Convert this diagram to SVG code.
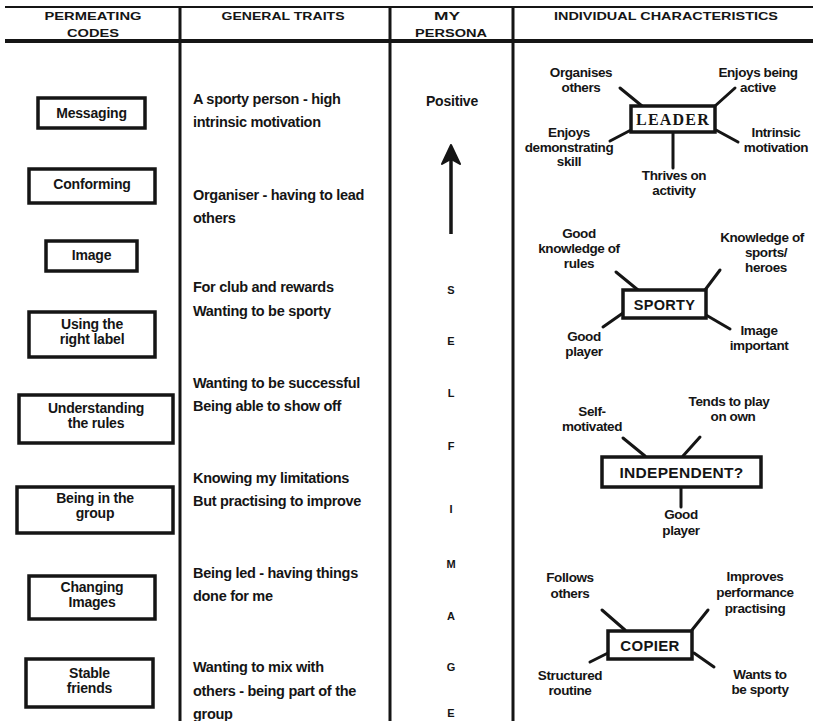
<svg xmlns="http://www.w3.org/2000/svg" width="813" height="721" viewBox="0 0 813 721">
<style>
text{font-family:"Liberation Sans",Arial,sans-serif;font-weight:bold;fill:#151515}
.h{font-size:11px;text-anchor:middle}
.t{font-size:14.5px;letter-spacing:-0.3px}
.b{font-size:14px;text-anchor:middle;letter-spacing:-0.2px}
.r{font-size:13.5px;text-anchor:middle;letter-spacing:-0.4px}
.m{font-size:11px;text-anchor:middle}
.box{fill:#fff;stroke:#151515;stroke-width:3.5}
.ln{stroke:#151515;stroke-width:3;stroke-linecap:round;fill:none}
.rule{stroke:#151515;fill:none}
</style>
<rect width="813" height="721" fill="#fff"/>
<g id="grid">
<line class="rule" x1="5" y1="7" x2="813" y2="7" stroke-width="2"/>
<line class="rule" x1="5" y1="41" x2="813" y2="41" stroke-width="4"/>
<line class="rule" x1="180" y1="7" x2="180" y2="721" stroke-width="3"/>
<line class="rule" x1="390" y1="7" x2="390" y2="721" stroke-width="3"/>
<line class="rule" x1="513" y1="7" x2="513" y2="721" stroke-width="3"/>
</g>
<g id="headers">
<text class="h" x="93" y="20" textLength="97" lengthAdjust="spacingAndGlyphs">PERMEATING</text>
<text class="h" x="93" y="37" textLength="52" lengthAdjust="spacingAndGlyphs">CODES</text>
<text class="h" x="283" y="20" textLength="123" lengthAdjust="spacingAndGlyphs">GENERAL TRAITS</text>
<text class="h" x="447" y="20" textLength="26" lengthAdjust="spacingAndGlyphs">MY</text>
<text class="h" x="451" y="37" textLength="72" lengthAdjust="spacingAndGlyphs">PERSONA</text>
<text class="h" x="666" y="20" textLength="224" lengthAdjust="spacingAndGlyphs">INDIVIDUAL CHARACTERISTICS</text>
</g>
<g id="code-messaging"><rect class="box" x="38" y="98" width="107" height="30"/><text class="b" x="91.5" y="118">Messaging</text></g>
<g id="code-conforming"><rect class="box" x="29" y="169" width="126" height="34"/><text class="b" x="92" y="189">Conforming</text></g>
<g id="code-image"><rect class="box" x="46" y="241" width="91" height="30"/><text class="b" x="91.5" y="260">Image</text></g>
<g id="code-label"><rect class="box" x="29" y="312" width="126" height="45"/><text class="b" x="92" y="329">Using the</text><text class="b" x="92" y="344">right label</text></g>
<g id="code-rules"><rect class="box" x="19" y="395" width="154" height="48"/><text class="b" x="96" y="413">Understanding</text><text class="b" x="96" y="428">the rules</text></g>
<g id="code-group"><rect class="box" x="17" y="487" width="156" height="46"/><text class="b" x="95" y="503">Being in the</text><text class="b" x="95" y="518">group</text></g>
<g id="code-changing"><rect class="box" x="29" y="576" width="126" height="43"/><text class="b" x="92" y="592">Changing</text><text class="b" x="92" y="607">Images</text></g>
<g id="code-stable"><rect class="box" x="26" y="659" width="127" height="48"/><text class="b" x="89.5" y="678">Stable</text><text class="b" x="89.5" y="693">friends</text></g>
<g id="traits">
<text class="t" x="193" y="104">A sporty person - high</text>
<text class="t" x="193" y="127">intrinsic motivation</text>
<text class="t" x="193" y="200">Organiser - having to lead</text>
<text class="t" x="193" y="223">others</text>
<text class="t" x="193" y="292">For club and rewards</text>
<text class="t" x="193" y="316">Wanting to be sporty</text>
<text class="t" x="193" y="388">Wanting to be successful</text>
<text class="t" x="193" y="411">Being able to show off</text>
<text class="t" x="193" y="483">Knowing my limitations</text>
<text class="t" x="193" y="506">But practising to improve</text>
<text class="t" x="193" y="578">Being led - having things</text>
<text class="t" x="193" y="601">done for me</text>
<text class="t" x="193" y="672">Wanting to mix with</text>
<text class="t" x="193" y="696">others - being part of the</text>
<text class="t" x="193" y="719">group</text>
</g>
<g id="persona">
<text class="b" x="452" y="106">Positive</text>
<line class="rule" x1="451" y1="158" x2="451" y2="234" stroke-width="3.5"/>
<path d="M451 145 L442 164 L451 159 L460 164 Z" fill="#151515" stroke="#151515" stroke-width="2" stroke-linejoin="round"/>
<text class="m" x="451" y="294">S</text>
<text class="m" x="451" y="345">E</text>
<text class="m" x="451" y="397">L</text>
<text class="m" x="451" y="450">F</text>
<text class="m" x="451" y="513">I</text>
<text class="m" x="451" y="568">M</text>
<text class="m" x="451" y="620">A</text>
<text class="m" x="451" y="671">G</text>
<text class="m" x="451" y="717">E</text>
</g>
<g id="connectors">
<line class="ln" x1="620" y1="88" x2="642" y2="106"/>
<line class="ln" x1="735" y1="88" x2="715" y2="106"/>
<line class="ln" x1="610" y1="141" x2="631" y2="130"/>
<line class="ln" x1="738" y1="142" x2="716" y2="130"/>
<line class="ln" x1="673" y1="132" x2="673" y2="168"/>
<line class="ln" x1="616" y1="272" x2="638" y2="290"/>
<line class="ln" x1="720" y1="270" x2="705" y2="290"/>
<line class="ln" x1="603" y1="327" x2="623" y2="313"/>
<line class="ln" x1="730" y1="329" x2="706" y2="315"/>
<line class="ln" x1="623" y1="438" x2="645" y2="456"/>
<line class="ln" x1="700" y1="437" x2="683" y2="456"/>
<line class="ln" x1="681" y1="487" x2="681" y2="507"/>
<line class="ln" x1="602" y1="610" x2="625" y2="630"/>
<line class="ln" x1="708" y1="610" x2="692" y2="630"/>
<line class="ln" x1="590" y1="662" x2="608" y2="653"/>
<line class="ln" x1="714" y1="667" x2="694" y2="653"/>
</g>
<g id="leader">
<rect class="box" x="631" y="106" width="84" height="26"/>
<text x="673" y="125" style="font-family:'Liberation Serif','Times New Roman',serif;font-size:16px;text-anchor:middle;letter-spacing:1.2px">LEADER</text>
</g>
<g id="leader-traits">
<text class="r" x="581" y="77">Organises</text><text class="r" x="581" y="92">others</text>
<text class="r" x="758" y="77">Enjoys being</text><text class="r" x="758" y="92">active</text>
<text class="r" x="569" y="137">Enjoys</text><text class="r" x="569" y="152">demonstrating</text><text class="r" x="569" y="166">skill</text>
<text class="r" x="776" y="137">Intrinsic</text><text class="r" x="776" y="152">motivation</text>
<text class="r" x="674" y="180">Thrives on</text><text class="r" x="674" y="195">activity</text>
</g>
<g id="sporty">
<rect class="box" x="623" y="290" width="83" height="28"/>
<text x="664.5" y="310" style="font-size:14.5px;text-anchor:middle;letter-spacing:0.3px">SPORTY</text>
</g>
<g id="sporty-traits">
<text class="r" x="579" y="238">Good</text><text class="r" x="579" y="253">knowledge of</text><text class="r" x="579" y="268">rules</text>
<text class="r" x="762" y="242">Knowledge of</text><text class="r" x="766" y="257">sports/</text><text class="r" x="766" y="272">heroes</text>
<text class="r" x="584" y="341">Good</text><text class="r" x="584" y="356">player</text>
<text class="r" x="759" y="335">Image</text><text class="r" x="759" y="350">important</text>
</g>
<g id="independent">
<rect class="box" x="602" y="457" width="159" height="30"/>
<text x="681.5" y="478" style="font-size:15.5px;text-anchor:middle;letter-spacing:0.3px">INDEPENDENT?</text>
</g>
<g id="independent-traits">
<text class="r" x="592" y="416">Self-</text><text class="r" x="592" y="431">motivated</text>
<text class="r" x="729" y="406">Tends to play</text><text class="r" x="733" y="421">on own</text>
<text class="r" x="681" y="519">Good</text><text class="r" x="681" y="535">player</text>
</g>
<g id="copier">
<rect class="box" x="608" y="631" width="84" height="28"/>
<text x="650" y="651" style="font-size:15px;text-anchor:middle;letter-spacing:0.3px">COPIER</text>
</g>
<g id="copier-traits">
<text class="r" x="570" y="582">Follows</text><text class="r" x="570" y="598">others</text>
<text class="r" x="755" y="581">Improves</text><text class="r" x="755" y="597">performance</text><text class="r" x="755" y="613">practising</text>
<text class="r" x="570" y="680">Structured</text><text class="r" x="570" y="695">routine</text>
<text class="r" x="760" y="679">Wants to</text><text class="r" x="760" y="694">be sporty</text>
</g>
</svg>
